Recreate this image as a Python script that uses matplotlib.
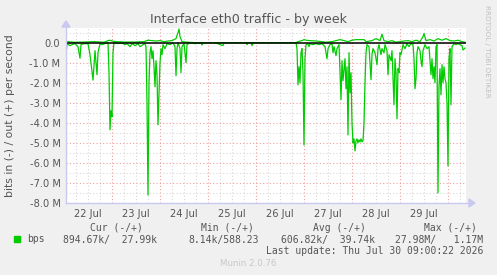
import numpy as np
import matplotlib
matplotlib.use("Agg")
from matplotlib import pyplot as plt
from matplotlib.patches import Rectangle, Polygon

# hours since 22 Jul 00:00, values in Mbit/s
in_hours = [1, 1.5, 3, 4, 5.5, 7, 8, 8.5, 10, 12, 13, 14.5, 15.5, 16.5, 17, 18, 19, 20.5,
            22, 22.5, 23, 23.5, 24, 24.5, 25, 27, 28.5, 30.5, 31.5, 33, 34, 35.5, 37, 38,
            39.5, 40.5, 41, 41.5, 42, 42.5, 43, 43.5, 44, 44.5, 45, 45.5, 46, 46.5, 47,
            47.5, 48, 48.5, 49, 49.5, 50.5, 51.5, 53, 54.5, 55.5, 56, 56.5, 57, 58, 58.5,
            59, 60, 61, 61.5, 63, 65.5, 68.5, 69, 69.5, 75.5, 79.5, 80, 91, 91.5, 92, 93.5,
            94, 94.5, 116, 116.5, 117, 117.5, 118, 118.5, 119, 119.5, 120, 120.5, 121, 122,
            122.5, 123, 124.5, 126, 127.5, 129, 130.5, 131.5, 132, 133, 134, 134.5, 135,
            136, 136.5, 137.5, 138, 138.5, 139, 139.5, 140.5, 141, 141.5, 142, 142.5, 143,
            143.5, 144, 144.5, 145, 145.5, 146, 146.5, 147, 147.5, 148, 148.5, 149, 149.5,
            150, 150.5, 151, 151.5, 152.5, 153, 153.5, 154, 154.5, 155.5, 156.5, 157, 157.5,
            158.5, 159, 160, 160.5, 161.5, 162, 162.5, 163.5, 164, 165, 165.5, 166, 166.5,
            167, 167.5, 168, 168.5, 169.5, 170.5, 171.5, 172.5, 173.5, 174.5, 175, 175.5,
            176, 176.5, 177, 178, 178.5, 179, 179.5, 180.5, 181.5, 182.5, 183.5, 184, 184.5,
            185, 185.5, 186, 186.5, 187, 187.5, 188, 188.5, 189, 189.5, 190, 190.5, 191,
            191.5, 192, 192.5, 193, 193.5, 194, 195, 196, 197, 198, 199, 199.5, 200.5]
in_mbps = [0.6, 0.05, 0.15, 0.1, 0.05, 0.2, 0.78, 0.1, 0.05, 0.05, 0.6, 1.87, 0.4, 1.6, 0.5,
           0.05, 0.1, 0.05, 0.0, 1.5, 4.35, 3.4, 3.7, 0.5, 0.0, 0.05, 0.0, 0.1, 0.05, 0.2,
           0.05, 0.15, 0.05, 0.2, 0.1, 0.05, 0.2, 3.0, 7.6, 2.0, 0.5, 0.2, 0.8, 0.4, 1.2,
           2.2, 0.9, 1.6, 4.1, 2.5, 1.0, 0.3, 0.6, 0.1, 0.3, 0.05, 0.1, 0.0, 0.2, 1.65,
           0.3, 0.0, 0.3, 1.5, 0.2, 0.05, 1.0, 0.1, 0.0, 0.05, 0.0, 0.12, 0.0, 0.0, 0.15,
           0.0, 0.0, 0.1, 0.0, 0.0, 0.15, 0.0, 0.0, 0.3, 2.1, 1.2, 2.0, 0.5, 0.3, 1.5, 5.1,
           0.8, 0.1, 0.05, 0.2, 0.05, 0.1, 0.05, 0.1, 0.05, 0.2, 0.8, 0.3, 0.1, 0.05, 0.5,
           0.2, 0.65, 0.3, 0.1, 1.5, 2.85, 0.9, 1.9, 0.8, 2.3, 1.2, 4.6, 0.5, 2.5, 1.5,
           4.0, 5.0, 4.8, 5.4, 4.9, 4.8, 5.0, 4.85, 4.95, 4.8, 4.95, 4.9, 4.0, 2.0, 0.5,
           0.1, 0.2, 1.0, 1.85, 0.6, 0.3, 0.5, 1.1, 0.3, 0.1, 0.6, 0.3, 0.5, 0.1, 0.4, 1.6,
           0.6, 0.9, 0.4, 3.1, 0.8, 1.5, 3.8, 1.3, 1.5, 0.5, 0.6, 0.1, 0.3, 0.05, 0.2,
           0.05, 0.1, 0.8, 2.3, 1.8, 0.5, 0.2, 0.4, 0.9, 1.2, 0.4, 0.1, 0.3, 0.2, 1.6, 0.8,
           1.8, 1.2, 2.0, 0.2, 0.1, 7.5, 2.2, 1.3, 2.6, 1.1, 2.0, 1.2, 1.8, 2.0, 3.0, 6.15,
           0.8, 0.3, 3.1, 0.2, 0.05, 0.1, 0.05, 0.1, 0.15, 0.37, 0.27]

out_hours = [1, 5, 10, 15, 20, 22, 23, 24, 26, 30, 35, 40, 42, 44, 46, 48, 50, 52, 54, 56,
             57, 57.5, 58, 59, 62, 65, 116, 117, 119, 120, 121, 123, 126, 129, 131, 134,
             136, 138, 140, 142, 144, 146, 150, 151, 154, 156, 158, 159, 160, 162, 164,
             166, 168, 170, 172, 174, 176, 178, 179.5, 180, 181, 183, 185, 187, 189, 191,
             193, 195, 197, 199, 200.5]
out_mbps = [0.05, 0.02, 0.03, 0.05, 0.02, 0.1, 0.12, 0.08, 0.05, 0.03, 0.03, 0.05, 0.12,
            0.1, 0.08, 0.1, 0.05, 0.08, 0.1, 0.2, 0.5, 0.68, 0.3, 0.05, 0.02, 0.0, 0.0,
            0.05, 0.1, 0.15, 0.12, 0.1, 0.08, 0.05, 0.02, 0.05, 0.1, 0.15, 0.1, 0.05, 0.12,
            0.15, 0.15, 0.05, 0.1, 0.2, 0.1, 0.42, 0.1, 0.05, 0.1, 0.02, 0.05, 0.08, 0.1,
            0.05, 0.12, 0.05, 0.3, 0.45, 0.1, 0.15, 0.08, 0.2, 0.12, 0.2, 0.1, 0.08, 0.12,
            0.05, 0.02]

day_labels = ["22 Jul", "23 Jul", "24 Jul", "25 Jul", "26 Jul", "27 Jul", "28 Jul", "29 Jul"]
y_ticks = [0, -1, -2, -3, -4, -5, -6, -7, -8]
y_labels = ["0.0", "-1.0 M", "-2.0 M", "-3.0 M", "-4.0 M", "-5.0 M", "-6.0 M", "-7.0 M", "-8.0 M"]

W, H = 497, 275
fig = plt.figure(figsize=(W / 100, H / 100), dpi=100)
fig.patch.set_facecolor("#f0f0f0")
ax = fig.add_axes([66 / W, (H - 203) / H, 400 / W, 175 / H])
ax.set_facecolor("white")
ax.set_xlim(1, 201)
ax.set_ylim(-8.0, 0.73)
for s in ax.spines.values():
    s.set_visible(False)

# grid
minor_c, major_c = "#d8d8d8", "#f0a0a0"
dots = (0, (1, 2))
for h in np.arange(6, 201, 6):
    c = major_c if h % 24 == 0 else minor_c
    ax.axvline(h, color=c, lw=0.8, ls=dots, zorder=1)
for v in np.arange(-7.5, 0.6, 0.5):
    c = major_c if v == int(v) else minor_c
    ax.axhline(v, color=c, lw=0.8, ls=dots, zorder=1)

ax.plot(in_hours, -np.array(in_mbps), color="#00cc00", lw=0.9, zorder=2)
ax.plot(out_hours, out_mbps, color="#00cc00", lw=0.9, zorder=2)
ax.axhline(0, color="black", lw=1.1, zorder=3)

ax.set_yticks(y_ticks)
ax.set_yticklabels(y_labels)
ax.set_xticks([12 + 24 * i for i in range(len(day_labels))])
ax.set_xticklabels(day_labels)
ax.tick_params(length=0, labelsize=7.1, colors="#555555", pad=4)
fig.text(10 / W, 1 - 116 / H, "bits in (-) / out (+) per second", rotation=90,
         ha="center", va="center", fontsize=7.8, color="#555555")

# axis arrows
ac = "#c8c8f0"
fig.add_artist(plt.Line2D([66 / W, 66 / W], [(H - 203) / H, (H - 26) / H], color=ac, lw=1))
fig.add_artist(plt.Line2D([66 / W, 469 / W], [(H - 203) / H, (H - 203) / H], color=ac, lw=1))
fig.add_artist(Polygon([[62 / W, (H - 27) / H], [70 / W, (H - 27) / H], [66 / W, (H - 21) / H]],
                       closed=True, color=ac, transform=fig.transFigure))
fig.add_artist(Polygon([[469 / W, (H - 199) / H], [469 / W, (H - 207) / H], [475 / W, (H - 203) / H]],
                       closed=True, color=ac, transform=fig.transFigure))

fig.text(248 / W, 1 - 19 / H, "Interface eth0 traffic - by week", ha="center", va="center",
         fontsize=9.1, color="#555555")
fig.text(487 / W, 1 - 5 / H, "RRDTOOL / TOBI OETIKER", rotation=270, ha="center", va="top",
         fontsize=5.2, color="#c0c0c0")

# legend
mono = {"family": "DejaVu Sans Mono", "fontsize": 7.0, "color": "#555555"}
fig.add_artist(Rectangle((14 / W, 1 - 242 / H), 6 / W, 6 / H, color="#00cc00",
                         transform=fig.transFigure))
fig.text(27 / W, 1 - 239.5 / H, "bps", va="center", **mono)
heads = [("Cur (-/+)", 116), ("Min (-/+)", 227), ("Avg (-/+)", 339), ("Max (-/+)", 450)]
for t, x in heads:
    fig.text(x / W, 1 - 228 / H, t, ha="center", va="center", **mono)
vals = [("894.67k/  27.99k", 157), ("8.14k/588.23", 259), ("606.82k/  39.74k", 375),
        ("27.98M/   1.17M", 483)]
for t, x in vals:
    fig.text(x / W, 1 - 239.5 / H, t, ha="right", va="center", **mono)
fig.text(483 / W, 1 - 251 / H, "Last update: Thu Jul 30 09:00:22 2026", ha="right", va="center",
         **mono)
fig.text(248 / W, 1 - 264 / H, "Munin 2.0.76", ha="center", va="center", fontsize=6.2,
         color="#c8c8c8")

fig.savefig("out.png", dpi=100, facecolor=fig.get_facecolor())
